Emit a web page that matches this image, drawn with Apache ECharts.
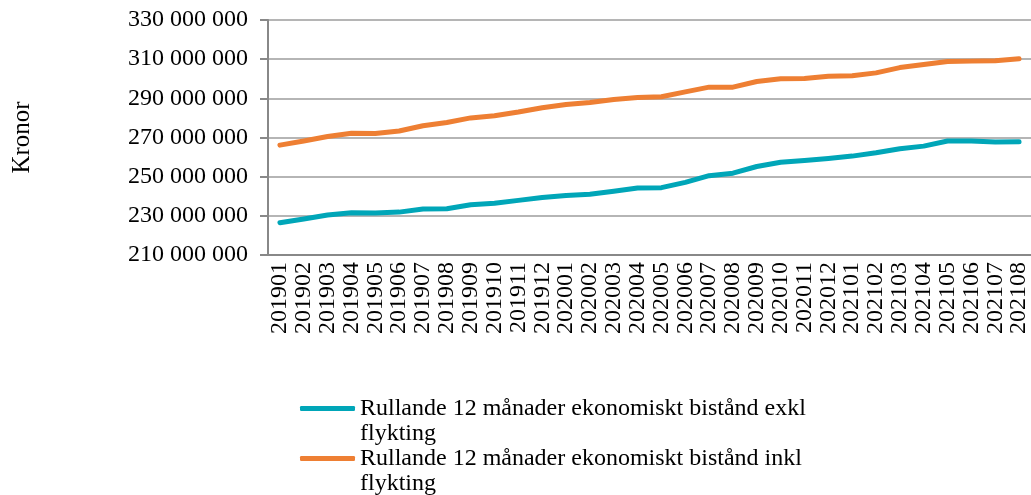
<!DOCTYPE html>
<html>
<head>
<meta charset="utf-8">
<script src="https://cdn.jsdelivr.net/npm/echarts@6/dist/echarts.min.js"></script>
<style>
  html, body { margin: 0; padding: 0; background: #fff; }
  #chart { width: 1031px; height: 495px; }
</style>
</head>
<body>
<div id="chart"></div>
<script>
  // månader
  const months = ['201901','201902','201903','201904','201905','201906','201907','201908','201909','201910','201911','201912',
    '202001','202002','202003','202004','202005','202006','202007','202008','202009','202010','202011','202012',
    '202101','202102','202103','202104','202105','202106','202107','202108']

  // miljoner kronor
  const exklMn = [226.5, 228.4, 230.4, 231.6, 231.4, 231.9, 233.5, 233.6, 235.7, 236.4, 237.9, 239.4,
    240.4, 241.0, 242.5, 244.2, 244.4, 247.1, 250.5, 251.8, 255.2, 257.4, 258.3, 259.3,
    260.5, 262.2, 264.3, 265.6, 268.2, 268.2, 267.7, 267.8]
  const inklMn = [266.1, 268.2, 270.5, 272.2, 272.1, 273.3, 276.0, 277.7, 280.0, 281.1, 283.0, 285.2,
    286.9, 287.9, 289.4, 290.4, 290.8, 293.3, 295.7, 295.7, 298.6, 300.0, 300.1, 301.3,
    301.5, 303.0, 305.7, 307.3, 308.8, 309.0, 309.2, 310.2]

  const nameExkl = 'Rullande 12 månader ekonomiskt bistånd exkl flykting'
  const nameInkl = 'Rullande 12 månader ekonomiskt bistånd inkl flykting'

  const yMin = 210000000
  const yMax = 330000000
  const yStep = 20000000

  const font = "'Liberation Serif', 'Times New Roman', serif"
  const teal = '#00a6b8'
  const orange = '#ee7f33'

  const chart = echarts.init(document.getElementById('chart'))

  // tom första rad så att ikonen hamnar vid första textraden
  function legendText(name) {
    return '\u00a0\n' + name.replace(' flykting', '\nflykting')
  }
  function legendFor(name, top) {
    return {
      data: [name],
      left: 300,
      top: top,
      padding: 0,
      orient: 'vertical',
      icon: 'roundRect',
      itemWidth: 55,
      itemHeight: 5,
      formatter: legendText,
      textStyle: {
        fontFamily: font,
        fontSize: 24,
        color: '#000',
        lineHeight: 25
      }
    }
  }

  const option = {
    animation: false,
    grid: { left: 268, right: 0, top: 20, bottom: 240, outerBoundsMode: 'none', containLabel: false },
    legend: [legendFor(nameExkl, 371), legendFor(nameInkl, 421)],
    xAxis: {
      type: 'category',
      data: months,
      boundaryGap: true,
      axisLine: { lineStyle: { color: '#888', width: 2 } },
      axisTick: { show: false },
      axisLabel: {
        rotate: 90,
        margin: 7,
        interval: 0,
        fontFamily: font,
        fontSize: 24,
        color: '#000'
      }
    },
    yAxis: {
      type: 'value',
      min: yMin,
      max: yMax,
      interval: yStep,
      name: 'Kronor',
      nameLocation: 'middle',
      nameRotate: 90,
      nameGap: 233,
      nameTextStyle: { fontFamily: font, fontSize: 25, color: '#000' },
      axisLine: { show: true, lineStyle: { color: '#888', width: 2 } },
      axisTick: { show: true, length: 8, lineStyle: { color: '#888', width: 2 } },
      splitLine: { lineStyle: { color: '#b5b5b5', width: 2 } },
      axisLabel: {
        margin: 20,
        fontFamily: font,
        fontSize: 24,
        color: '#000',
        formatter: v => String(v).replace(/\B(?=(\d{3})+(?!\d))/g, ' ')
      }
    },
    series: [
      {
        name: nameExkl,
        type: 'line',
        data: exklMn.map(v => v * 1000000),
        showSymbol: false,
        symbol: 'none',
        color: teal,
        lineStyle: { width: 5, cap: 'round', join: 'round' }
      },
      {
        name: nameInkl,
        type: 'line',
        data: inklMn.map(v => v * 1000000),
        showSymbol: false,
        symbol: 'none',
        color: orange,
        lineStyle: { width: 5, cap: 'round', join: 'round' }
      }
    ]
  }
  chart.setOption(option)
</script>
</body>
</html>
